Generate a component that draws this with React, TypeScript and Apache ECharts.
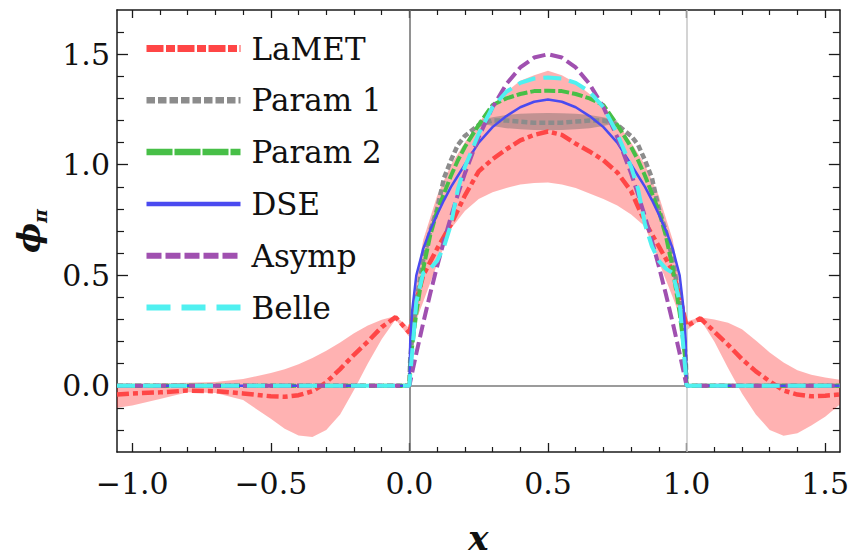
import React, { useEffect, useRef } from "react";
import * as echarts from "echarts";

// ---- axis ranges & ticks ----
const X_MIN = -1.055;
const X_MAX = 1.553;
const Y_MIN = -0.3;
const Y_MAX = 1.7;
const xMajor = [-1, -0.5, 0, 0.5, 1, 1.5];
const xMinor = [-0.9, -0.8, -0.7, -0.6, -0.4, -0.3, -0.2, -0.1, 0.1, 0.2, 0.3, 0.4, 0.6, 0.7, 0.8, 0.9, 1.1, 1.2, 1.3, 1.4];
const yMajor = [0, 0.5, 1, 1.5];
const yMinor = [-0.2, -0.1, 0.1, 0.2, 0.3, 0.4, 0.6, 0.7, 0.8, 0.9, 1.1, 1.2, 1.3, 1.4, 1.6];

// ---- model curves (zero outside [0,1]) ----
const modelX = [-1.055, 0, 0.003, 0.01, 0.025, 0.05, 0.075, 0.1, 0.125, 0.15, 0.175, 0.2, 0.25, 0.3, 0.35, 0.4, 0.45, 0.5,
  0.55, 0.6, 0.65, 0.7, 0.75, 0.8, 0.825, 0.85, 0.875, 0.9, 0.925, 0.95, 0.975, 0.99, 0.997, 1, 1.553];
const param1Y = [0, 0, 0.12, 0.22, 0.38, 0.57, 0.70, 0.80, 0.94, 1.02, 1.09, 1.13, 1.18, 1.2, 1.2, 1.195, 1.19, 1.19,
  1.19, 1.195, 1.2, 1.2, 1.18, 1.13, 1.09, 1.02, 0.94, 0.80, 0.70, 0.57, 0.38, 0.22, 0.12, 0, 0];
const param2Y = [0, 0, 0.1, 0.18, 0.33, 0.53, 0.68, 0.79, 0.87, 0.95, 1.02, 1.08, 1.18, 1.27, 1.30, 1.32, 1.333, 1.335,
  1.333, 1.32, 1.30, 1.27, 1.18, 1.08, 1.02, 0.95, 0.87, 0.79, 0.68, 0.53, 0.33, 0.18, 0.1, 0, 0];
const dseY = [0, 0, 0.2, 0.34, 0.5, 0.62, 0.705, 0.775, 0.84, 0.9, 0.95, 1.0, 1.1, 1.17, 1.22, 1.26, 1.285, 1.295,
  1.285, 1.26, 1.22, 1.17, 1.1, 1.0, 0.95, 0.9, 0.84, 0.775, 0.705, 0.62, 0.5, 0.34, 0.2, 0, 0];
const asympY = [0, 0, 0.018, 0.059, 0.146, 0.285, 0.416, 0.54, 0.656, 0.765, 0.866, 0.96, 1.125, 1.26, 1.365, 1.44, 1.485, 1.5,
  1.485, 1.44, 1.365, 1.26, 1.125, 0.96, 0.866, 0.765, 0.656, 0.54, 0.416, 0.285, 0.146, 0.059, 0.018, 0, 0];
const belleY = [0, 0, 0.05, 0.15, 0.38, 0.51, 0.53, 0.565, 0.63, 0.73, 0.89, 0.99, 1.14, 1.26, 1.33, 1.37, 1.39, 1.395,
  1.39, 1.37, 1.33, 1.26, 1.14, 0.99, 0.89, 0.73, 0.63, 0.565, 0.53, 0.51, 0.38, 0.15, 0.05, 0, 0];

// ---- LaMET curve and its error band ----
const lametX = [-1.055, -1.0, -0.9, -0.8, -0.7, -0.6, -0.5, -0.45, -0.4, -0.35, -0.3, -0.25, -0.2, -0.15, -0.1, -0.05, 0,
  0.02, 0.05, 0.1, 0.15, 0.2, 0.25, 0.3, 0.35, 0.4, 0.45, 0.5, 0.55, 0.6, 0.65, 0.7, 0.75, 0.8, 0.85, 0.9, 0.95, 0.98, 1.0,
  1.05, 1.1, 1.15, 1.2, 1.25, 1.3, 1.35, 1.4, 1.45, 1.5, 1.553];
const lametY = [-0.04, -0.035, -0.03, -0.022, -0.025, -0.035, -0.048, -0.05, -0.043, -0.025, 0.015, 0.075, 0.14, 0.2, 0.265, 0.31, 0.24,
  0.36, 0.5, 0.62, 0.73, 0.86, 0.97, 1.025, 1.07, 1.11, 1.135, 1.15, 1.135, 1.095, 1.06, 1.02, 0.965, 0.88, 0.74, 0.63, 0.52, 0.38, 0.27,
  0.305, 0.245, 0.185, 0.12, 0.065, 0.02, -0.022, -0.04, -0.048, -0.045, -0.04];
const lametHi = [0.005, 0.008, 0.01, 0.013, 0.017, 0.03, 0.058, 0.075, 0.097, 0.125, 0.158, 0.195, 0.237, 0.272, 0.298, 0.315, 0.26,
  0.45, 0.66, 0.86, 1.0, 1.1, 1.19, 1.27, 1.33, 1.38, 1.405, 1.425, 1.405, 1.37, 1.32, 1.27, 1.19, 1.1, 1.0, 0.86, 0.66, 0.45, 0.29,
  0.31, 0.3, 0.285, 0.255, 0.205, 0.15, 0.105, 0.07, 0.05, 0.037, 0.027];
const lametLo = [-0.1, -0.09, -0.06, -0.03, -0.033, -0.065, -0.15, -0.195, -0.225, -0.232, -0.2, -0.13, -0.02, 0.1, 0.21, 0.3, 0.22,
  0.28, 0.38, 0.55, 0.71, 0.79, 0.845, 0.875, 0.895, 0.91, 0.917, 0.92, 0.91, 0.895, 0.87, 0.845, 0.815, 0.775, 0.72, 0.56, 0.4, 0.3, 0.25,
  0.3, 0.2, 0.079, -0.035, -0.13, -0.2, -0.226, -0.215, -0.18, -0.14, -0.085];

// ---- Param 1 error band (near the top) ----
const p1BandX = [0.25, 0.3, 0.35, 0.4, 0.45, 0.5, 0.55, 0.6, 0.65, 0.7, 0.75];
const p1BandHi = [1.2, 1.215, 1.225, 1.23, 1.233, 1.234, 1.233, 1.23, 1.225, 1.215, 1.2];
const p1BandLo = [1.19, 1.175, 1.165, 1.16, 1.157, 1.156, 1.157, 1.16, 1.165, 1.175, 1.19];

const FONT = "DejaVu Serif";

const zip = (xs: number[], ys: number[]) => xs.map((x, i) => [x, ys[i]]);

function band(xs: number[], lo: number[], hi: number[], fill: string, z: number) {
  return {
    type: "custom",
    silent: true,
    z,
    clip: true,
    data: [[xs[0], lo[0]]],
    renderItem: (params: any, api: any) => {
      const top = xs.map((x, i) => api.coord([x, hi[i]]));
      const bot = xs.map((x, i) => api.coord([x, lo[i]])).reverse();
      return { type: "polygon", shape: { points: top.concat(bot) }, style: { fill } };
    },
  };
}

function line(name: string, xs: number[], ys: number[], color: string, width: number, type: any, z: number) {
  return {
    type: "line",
    name,
    data: zip(xs, ys),
    symbol: "none",
    showSymbol: false,
    z,
    lineStyle: { color, width, type, cap: "butt" },
    itemStyle: { color },
  };
}

const fmtX = (v: number) => (v < 0 ? "\u2212" : "") + Math.abs(v).toFixed(1);
const fmtY = (v: number) => v.toFixed(1);

export default function App() {
  const ref = useRef<HTMLDivElement>(null);
  useEffect(() => {
    document.body.style.margin = "0";
    const chart = echarts.init(ref.current!, null, { renderer: "svg" });
    const axisColor = "#1a1a1a";
    const xBase = (pos: string) => ({
      type: "value", min: X_MIN, max: X_MAX, position: pos,
      splitLine: { show: false },
    });
    const yBase = (pos: string) => ({
      type: "value", min: Y_MIN, max: Y_MAX, position: pos,
      splitLine: { show: false },
    });
    const tickLab = { fontFamily: FONT, fontSize: 30, color: "#111" };
    chart.setOption({
      animation: false,
      grid: { left: 117, right: 10, top: 10, bottom: 102, containLabel: false },
      legend: {
        orient: "vertical",
        left: 143,
        top: 33,
        padding: 0,
        itemWidth: 94,
        itemHeight: 30,
        itemGap: 20.8,
        itemStyle: { opacity: 0 },
        textStyle: { fontFamily: FONT, fontSize: 31, color: "#111", lineHeight: 30, padding: [0, 0, 0, 6] },
        selectedMode: false,
        data: [
          { name: "LaMET", lineStyle: { width: 7, type: [17, 2.5, 9, 2.5] } },
          { name: "Param 1", lineStyle: { width: 6.5, type: [8.5, 3] } },
          { name: "Param 2", lineStyle: { width: 6.5, type: [26, 2] } },
          { name: "DSE", lineStyle: { width: 4.5, type: "solid" } },
          { name: "Asymp", lineStyle: { width: 6, type: [15, 4] } },
          { name: "Belle", lineStyle: { width: 6, type: [24, 11] } },
        ],
      },
      xAxis: [
        {
          ...xBase("bottom"),
          axisLine: { show: true, onZero: false, lineStyle: { color: axisColor, width: 1.5 } },
          axisTick: { show: true, inside: true, length: 9, customValues: xMajor, lineStyle: { color: axisColor, width: 1.3 } },
          axisLabel: { show: true, customValues: xMajor, formatter: fmtX, margin: 16, ...tickLab },
          name: "x",
          nameLocation: "middle",
          nameGap: 69,
          nameTextStyle: { fontFamily: FONT, fontSize: 34, fontStyle: "italic", fontWeight: "bold", color: "#111" },
        },
        {
          ...xBase("bottom"),
          axisLine: { show: false, onZero: false },
          axisTick: { show: true, inside: true, length: 5, customValues: xMinor, lineStyle: { color: axisColor, width: 1.2 } },
          axisLabel: { show: false },
        },
        {
          ...xBase("top"),
          axisLine: { show: true, onZero: false, lineStyle: { color: axisColor, width: 1.5 } },
          axisTick: { show: true, inside: true, length: 8, customValues: xMajor, lineStyle: { color: axisColor, width: 1.3 } },
          axisLabel: { show: false },
        },
        {
          ...xBase("top"),
          axisLine: { show: false, onZero: false },
          axisTick: { show: true, inside: true, length: 5, customValues: xMinor, lineStyle: { color: axisColor, width: 1.2 } },
          axisLabel: { show: false },
        },
      ],
      yAxis: [
        {
          ...yBase("left"),
          axisLine: { show: true, onZero: false, lineStyle: { color: axisColor, width: 1.5 } },
          axisTick: { show: true, inside: true, length: 11, customValues: yMajor, lineStyle: { color: axisColor, width: 1.3 } },
          axisLabel: { show: true, customValues: yMajor, formatter: fmtY, margin: 7, ...tickLab },
          name: "{p|\u03D5}{s|\u03C0}",
          nameLocation: "middle",
          nameRotate: 90,
          nameGap: 68,
          nameTextStyle: {
            rich: {
              p: { fontFamily: FONT, fontSize: 32, fontStyle: "italic", fontWeight: "bold", color: "#111", lineHeight: 40 },
              s: { fontFamily: FONT, fontSize: 19, fontStyle: "italic", fontWeight: "bold", color: "#111", verticalAlign: "bottom" },
            },
          },
        },
        {
          ...yBase("left"),
          axisLine: { show: false, onZero: false },
          axisTick: { show: true, inside: true, length: 7, customValues: yMinor, lineStyle: { color: axisColor, width: 1.2 } },
          axisLabel: { show: false },
        },
        {
          ...yBase("right"),
          axisLine: { show: true, onZero: false, lineStyle: { color: axisColor, width: 1.5 } },
          axisTick: { show: true, inside: true, length: 11, customValues: yMajor, lineStyle: { color: axisColor, width: 1.3 } },
          axisLabel: { show: false },
        },
        {
          ...yBase("right"),
          axisLine: { show: false, onZero: false },
          axisTick: { show: true, inside: true, length: 7, customValues: yMinor, lineStyle: { color: axisColor, width: 1.2 } },
          axisLabel: { show: false },
        },
      ],
      series: [
        band(lametX, lametLo, lametHi, "rgba(255,0,0,0.3)", 1),
        {
          type: "line",
          data: [],
          z: 2,
          markLine: {
            silent: true,
            z: 2,
            symbol: ["none", "none"],
            label: { show: false },
            data: [
              { xAxis: 0, lineStyle: { color: "#6e6e6e", width: 1.5, type: "solid" } },
              { xAxis: 1, lineStyle: { color: "#c6c6c6", width: 1.5, type: "solid" } },
              { yAxis: 0, lineStyle: { color: "#7a7a7a", width: 1.5, type: "solid" } },
            ],
          },
        },
        line("LaMET", lametX, lametY, "#ff4646", 4.5, [12, 4, 5, 4], 3),
        band(p1BandX, p1BandLo, p1BandHi, "rgba(94,94,94,0.38)", 3),
        line("Param 1", modelX, param1Y, "#8c8c8c", 4.5, [6, 3], 4),
        line("Param 2", modelX, param2Y, "#47bf47", 4, [11, 3], 4),
        line("DSE", modelX, dseY, "#4a4af0", 2.5, "solid", 4),
        line("Asymp", modelX, asympY, "#a050b0", 4, [13, 5], 4),
        line("Belle", modelX, belleY, "#50f0f0", 4, [18, 8], 4),
      ],
    });
    return () => chart.dispose();
  }, []);
  return <div ref={ref} style={{ position: "absolute", left: 0, top: 0, width: 852, height: 560 }} />;
}
